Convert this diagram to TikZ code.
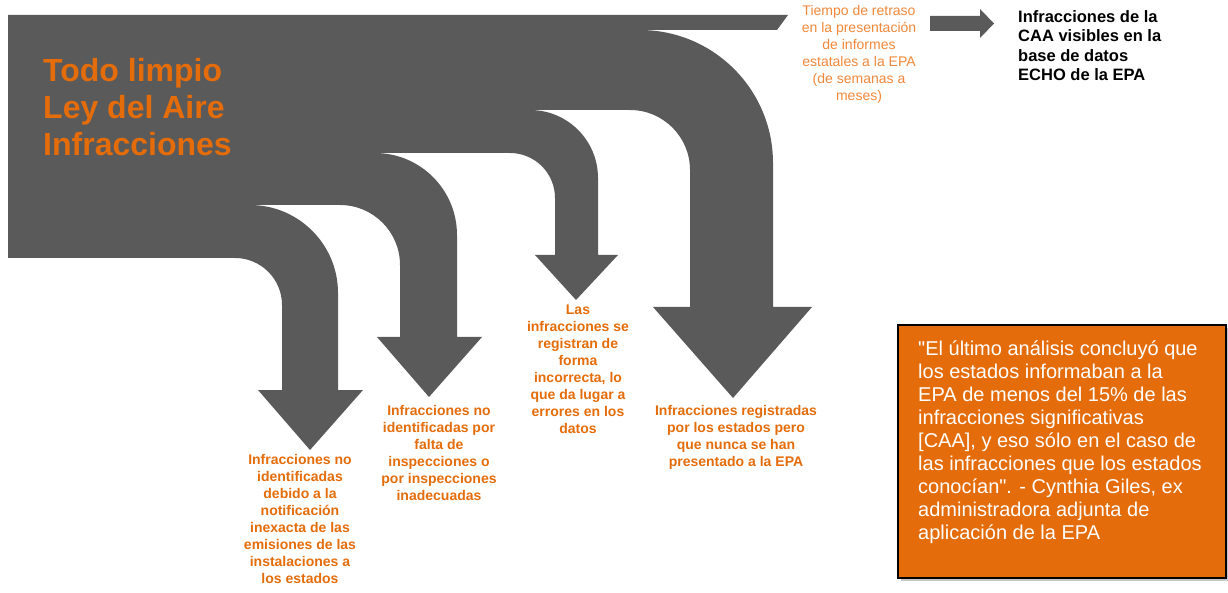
\documentclass[tikz,border=0pt]{standalone}
\usepackage{fontspec}
\setmainfont{Liberation Sans}[Ligatures=TeXOff]
\usepackage{tikz}
\usetikzlibrary{shadows}
\definecolor{flowgrey}{HTML}{5A5A5A}
\definecolor{caaorange}{HTML}{E46C0A}
\definecolor{delayorange}{HTML}{F0873A}
\newcommand{\leaksize}{\fontsize{14}{17}\selectfont}
\tikzstyle{flow}=[fill=flowgrey, draw=none]
\tikzstyle{leak}=[text=caaorange, font=\leaksize\bfseries, align=center, inner sep=0, anchor=north]
\tikzstyle{headline}=[text=caaorange, font=\fontsize{32}{37}\selectfont\bfseries, align=left, inner sep=0, anchor=north west]
\tikzstyle{delay}=[text=delayorange, font=\leaksize, align=center, inner sep=0, anchor=north]
\tikzstyle{echo}=[text=black, font=\fontsize{16.5}{19.5}\selectfont\bfseries, align=left, inner sep=0, anchor=north west]
\tikzstyle{quotebox}=[draw=black, line width=2pt, fill=caaorange, inner sep=0, anchor=north west,
                      drop shadow={shadow xshift=3pt, shadow yshift=-3pt, opacity=0.45}]
\tikzstyle{quote}=[text=white, font=\fontsize{20}{23}\selectfont, align=left, inner sep=0, anchor=north west]

\begin{document}
\begin{tikzpicture}[x=1pt, y=-1pt]
    \useasboundingbox (0,0) rectangle (1228,593);
    % main flow and the four branches leaking downwards
    \fill[flow] (8,15) -- (788,15) -- (777,30) -- (640,30)
        arc[start angle=90, end angle=0, radius=133pt] -- (773,307) -- (812,307) -- (733,398) -- (653,307) -- (690,307) -- (690,170)
        arc[start angle=0, end angle=90, radius=60pt] -- (530,110)
        arc[start angle=90, end angle=0, radius=68pt] -- (598,255) -- (618,255) -- (576,300) -- (535,255) -- (555,255) -- (555,198)
        arc[start angle=0, end angle=90, radius=45pt] -- (375,153)
        arc[start angle=90, end angle=0, radius=82pt] -- (457,337) -- (482,337) -- (429,397) -- (377,337) -- (400,337) -- (400,265)
        arc[start angle=0, end angle=90, radius=60pt] -- (250,205)
        arc[start angle=90, end angle=0, radius=88pt] -- (338,390) -- (363,390) -- (310,450) -- (258,390) -- (282,390) -- (282,305)
        arc[start angle=0, end angle=90, radius=47pt] -- (8,258) -- cycle;
    \fill[flow] (930,16) -- (980,16) -- (980,9) -- (994,23.5) -- (980,38) -- (980,31) -- (930,31) -- cycle;

    \node[headline] (title) at (43,58) {Todo limpio\\Ley del Aire\\Infracciones};
    \node[delay] (delay) at (859,5) {Tiempo de retraso\\en la presentación\\de informes\\estatales a la EPA\\(de semanas a\\meses)};
    \node[echo] (echo) at (1018,10) {Infracciones de la\\CAA visibles en la\\base de datos\\ECHO de la EPA};

    \node[leak] (leakA) at (300,454) {Infracciones no\\identificadas\\debido a la\\notificación\\inexacta de las\\emisiones de las\\instalaciones a\\los estados};
    \node[leak] (leakB) at (439,405) {Infracciones no\\identificadas por\\falta de\\inspecciones o\\por inspecciones\\inadecuadas};
    \node[leak] (leakC) at (578,305) {Las\\infracciones se\\registran de\\forma\\incorrecta, lo\\que da lugar a\\errores en los\\datos};
    \node[leak] (leakD) at (736,405) {Infracciones registradas\\por los estados pero\\que nunca se han\\presentado a la EPA};

    \node[quotebox, minimum width=328pt, minimum height=253pt] (quotebox) at (897,324) {};
    \node[quote] (quote) at (918,341) {"El último análisis concluyó que\\los estados informaban a la\\EPA de menos del 15\% de las\\infracciones significativas\\{[CAA]}, y eso sólo en el caso de\\las infracciones que los estados\\conocían". - Cynthia Giles, ex\\administradora adjunta de\\aplicación de la EPA};
\end{tikzpicture}
\end{document}
